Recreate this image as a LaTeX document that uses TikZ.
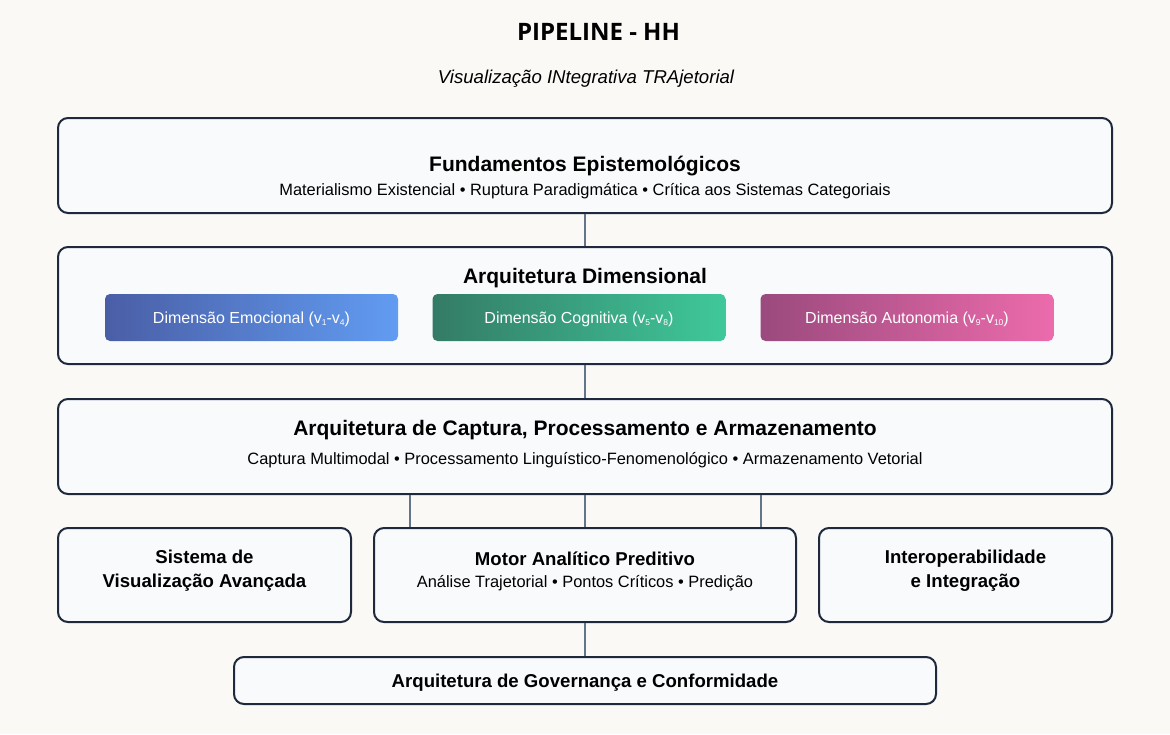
\documentclass[tikz,border=0pt]{standalone}
\usepackage{fontspec}
\setmainfont{Liberation Sans}
\newfontfamily\headfont{Open Sans}
\definecolor{paper}{HTML}{FAF9F6}
\definecolor{boxfill}{HTML}{F8FAFC}
\definecolor{boxline}{HTML}{1E293B}
\definecolor{linkc}{HTML}{64748B}
\definecolor{emoL}{HTML}{4A5EA6}
\definecolor{emoR}{HTML}{619CF2}
\definecolor{cogL}{HTML}{347B66}
\definecolor{cogR}{HTML}{3FC89A}
\definecolor{autL}{HTML}{9A4A7E}
\definecolor{autR}{HTML}{EC6BAC}
\newcommand{\vsub}[1]{\raisebox{-2.5pt}{\fontsize{8.5}{9}\selectfont#1}}
\tikzset{
  layer/.style={draw=boxline, line width=2pt, fill=boxfill, rounded corners=10pt, inner sep=0pt},
  dimbox/.style={rounded corners=5pt, minimum width=293pt, minimum height=47pt, text depth=0pt, text=white, font=\fontsize{16}{19}\selectfont},
  boxtitle/.style={yshift=-2pt, font=\bfseries\fontsize{21}{25}\selectfont},
  smalltitle/.style={yshift=-2pt, font=\bfseries\fontsize{18.6}{24}\selectfont, align=center},
  boxsub/.style={yshift=-2pt, font=\fontsize{16.4}{19}\selectfont},
  link/.style={draw=linkc, line width=2pt}
}
\begin{document}
\begin{tikzpicture}[x=1pt,y=-1pt]
	\fill[paper] (0,0) rectangle (1170,734);
	% heading
	\node[font=\headfont\bfseries\fontsize{24}{28}\selectfont] (title) at (598.5,32) {PIPELINE - HH};
	\node[font=\itshape\fontsize{18.6}{22}\selectfont] (subtitle) at (586,79) {Visualização INtegrativa TRAjetorial};
	% layers
	\node[layer, minimum width=1054pt, minimum height=95pt] (fund) at (585,165.5) {};
	\node[boxtitle] (fundT) at (585,164) {Fundamentos Epistemológicos};
	\node[boxsub] (fundS) at (585,189) {Materialismo Existencial • Ruptura Paradigmática • Crítica aos Sistemas Categoriais};
	\node[layer, minimum width=1054pt, minimum height=117pt] (dim) at (585,305.5) {};
	\node[boxtitle] (dimT) at (585,276) {Arquitetura Dimensional};
	\node[dimbox, left color=emoL, right color=emoR] (emo) at (251.5,317.5) {Dimensão Emocional (v\vsub{1}-v\vsub{4})};
	\node[dimbox, left color=cogL, right color=cogR] (cog) at (579,317.5) {Dimensão Cognitiva (v\vsub{5}-v\vsub{8})};
	\node[dimbox, left color=autL, right color=autR] (aut) at (907,317.5) {Dimensão Autonomia (v\vsub{9}-v\vsub{10})};
	\node[layer, minimum width=1054pt, minimum height=95pt] (cap) at (585,446.5) {};
	\node[boxtitle] (capT) at (585,428) {Arquitetura de Captura, Processamento e Armazenamento};
	\node[boxsub] (capS) at (585,458) {Captura Multimodal • Processamento Linguístico-Fenomenológico • Armazenamento Vetorial};
	% bottom row
	\node[layer, minimum width=293pt, minimum height=94pt] (vis) at (204.5,575) {};
	\node[smalltitle] (visT) at (204.5,569) {Sistema de\\Visualização Avançada};
	\node[layer, minimum width=422pt, minimum height=94pt] (motor) at (585,575) {};
	\node[smalltitle] (motorT) at (585,557) {Motor Analítico Preditivo};
	\node[boxsub] (motorS) at (585,581) {Análise Trajetorial • Pontos Críticos • Predição};
	\node[layer, minimum width=293pt, minimum height=94pt] (inter) at (965.5,575) {};
	\node[smalltitle] (interT) at (965.5,569) {Interoperabilidade\\e Integração};
	\node[layer, minimum width=702pt, minimum height=47pt] (gov) at (585,680.5) {};
	\node[smalltitle] (govT) at (585,681) {Arquitetura de Governança e Conformidade};
	% connectors
	\draw[link] (fund.south) -- (dim.north);
	\draw[link] (dim.south) -- (cap.north);
	\draw[link] ([xshift=-175pt]cap.south) -- ([xshift=-175pt]motor.north);
	\draw[link] (cap.south) -- (motor.north);
	\draw[link] ([xshift=176pt]cap.south) -- ([xshift=176pt]motor.north);
	\draw[link] (motor.south) -- (gov.north);
\end{tikzpicture}
\end{document}
